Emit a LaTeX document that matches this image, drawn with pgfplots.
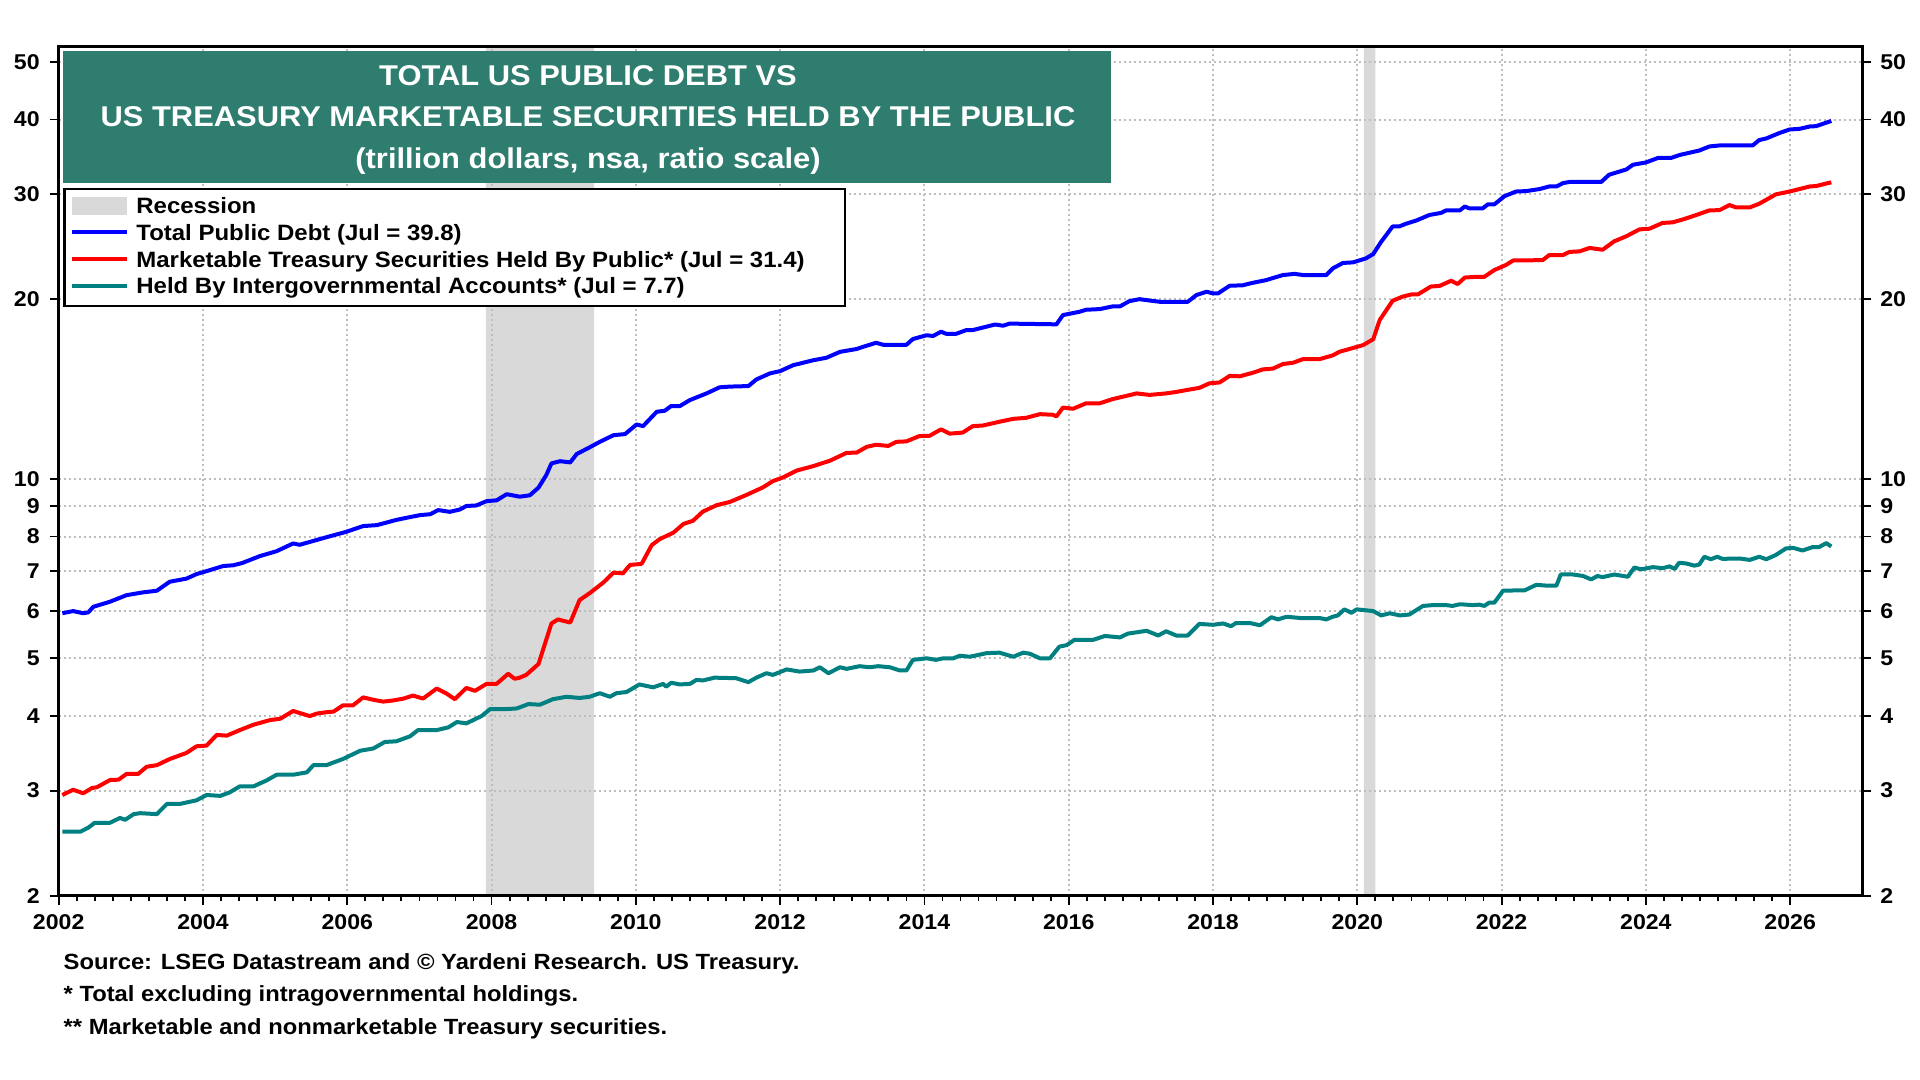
\documentclass[border=0pt]{standalone}
\usepackage{pgfplots}
\pgfplotsset{compat=1.18}
\usepackage{fontspec}
\setmainfont{Liberation Sans}[FakeStretch=1.08]
\definecolor{titlegreen}{RGB}{46,125,111}
\definecolor{recgray}{RGB}{217,217,217}
\definecolor{gridgray}{RGB}{190,190,190}
\definecolor{tealc}{RGB}{0,128,128}
\begin{document}
\begin{tikzpicture}
\begin{axis}[
  at={(29.35pt,92.15pt)}, anchor=south west,
  scale only axis, width=901.8pt, height=424.5pt,
  xmin=2002, xmax=2027, ymin=2, ymax=53, ymode=log,
  set layers,
  axis line style={line width=1.65pt},
  xtick={2002,2004,2006,2008,2010,2012,2014,2016,2018,2020,2022,2024,2026},
  xticklabels={2002,2004,2006,2008,2010,2012,2014,2016,2018,2020,2022,2024,2026},
  minor x tick num=7,
  ytick={2,3,4,5,6,7,8,9,10,20,30,40,50},
  yticklabels={2,3,4,5,6,7,8,9,10,20,30,40,50},
  yminorticks=false,
  ytick pos=left, xtick pos=bottom,
  tick align=outside,
  major tick length=4.5pt, minor tick length=2.5pt,
  tick style={line width=0.9pt, black},
  grid=major,
  major grid style={line width=1pt, color=gridgray, dash pattern=on 1pt off 1.5pt},
  ticklabel style={font=\fontsize{10.7}{12}\selectfont\bfseries},
  xticklabel style={yshift=-1.5pt},
  yticklabel style={xshift=-1.5pt},
]
\addplot[fill=recgray, draw=none, on layer=axis background] coordinates {(2007.92,2) (2009.42,2) (2009.42,53) (2007.92,53) (2007.92,2)};
\addplot[fill=recgray, draw=none, on layer=axis background] coordinates {(2020.09,2) (2020.25,2) (2020.25,53) (2020.09,53) (2020.09,2)};
% Total public debt
\addplot[blue, line width=2pt, line join=round] coordinates {
(2002.05,5.95)(2002.20,6.0)(2002.34,5.95)(2002.41,5.97)(2002.48,6.1)(2002.71,6.22)(2002.94,6.38)(2003.17,6.45)(2003.36,6.49)(2003.54,6.72)(2003.77,6.8)(2003.91,6.92)(2004.10,7.03)(2004.28,7.14)(2004.42,7.16)(2004.54,7.22)(2004.79,7.42)(2005.02,7.56)(2005.25,7.79)(2005.34,7.75)(2005.71,7.98)(2005.99,8.15)(2006.22,8.33)(2006.41,8.36)(2006.68,8.53)(2006.82,8.6)(2007.01,8.69)(2007.15,8.72)(2007.26,8.86)(2007.42,8.8)(2007.56,8.88)(2007.65,9.0)(2007.79,9.02)(2007.93,9.17)(2008.07,9.2)(2008.21,9.42)(2008.39,9.33)(2008.53,9.38)(2008.65,9.66)(2008.76,10.15)(2008.83,10.61)(2008.95,10.7)(2009.09,10.65)(2009.18,11.0)(2009.36,11.29)(2009.50,11.53)(2009.69,11.83)(2009.85,11.88)(2010.01,12.33)(2010.10,12.25)(2010.29,12.95)(2010.40,13.0)(2010.49,13.24)(2010.61,13.24)(2010.75,13.55)(2010.98,13.9)(2011.16,14.23)(2011.30,14.27)(2011.56,14.3)(2011.67,14.67)(2011.86,15.02)(2012.00,15.15)(2012.18,15.5)(2012.46,15.8)(2012.64,15.95)(2012.83,16.32)(2013.06,16.5)(2013.15,16.64)(2013.33,16.9)(2013.43,16.77)(2013.75,16.77)(2013.84,17.15)(2014.03,17.4)(2014.12,17.35)(2014.23,17.64)(2014.30,17.5)(2014.44,17.5)(2014.58,17.75)(2014.67,17.75)(2014.98,18.14)(2015.09,18.05)(2015.18,18.2)(2015.83,18.15)(2015.92,18.81)(2016.15,19.05)(2016.24,19.2)(2016.43,19.25)(2016.61,19.45)(2016.71,19.45)(2016.84,19.85)(2016.98,20.0)(2017.12,19.9)(2017.26,19.8)(2017.65,19.8)(2017.77,20.32)(2017.91,20.58)(2018.00,20.45)(2018.07,20.45)(2018.23,21.06)(2018.41,21.1)(2018.55,21.3)(2018.74,21.53)(2018.83,21.7)(2018.97,21.95)(2019.13,22.05)(2019.25,21.95)(2019.57,21.95)(2019.66,22.52)(2019.80,23.0)(2019.94,23.05)(2020.12,23.41)(2020.22,23.8)(2020.33,24.95)(2020.49,26.48)(2020.58,26.48)(2020.68,26.77)(2020.82,27.1)(2021.00,27.68)(2021.16,27.9)(2021.23,28.17)(2021.42,28.17)(2021.49,28.6)(2021.55,28.4)(2021.74,28.4)(2021.81,28.84)(2021.90,28.84)(2022.04,29.76)(2022.20,30.3)(2022.34,30.35)(2022.53,30.6)(2022.66,30.9)(2022.76,30.9)(2022.85,31.3)(2022.94,31.44)(2023.38,31.44)(2023.49,32.33)(2023.73,33.0)(2023.82,33.6)(2024.00,33.9)(2024.17,34.5)(2024.35,34.5)(2024.47,34.9)(2024.74,35.5)(2024.88,36.06)(2025.02,36.2)(2025.48,36.2)(2025.57,36.96)(2025.67,37.2)(2025.85,37.98)(2025.99,38.5)(2026.13,38.6)(2026.27,38.95)(2026.36,39.0)(2026.57,39.8)
};
% Marketable held by public
\addplot[red, line width=2pt, line join=round] coordinates {
(2002.05,2.95)(2002.20,3.01)(2002.34,2.97)(2002.46,3.03)(2002.53,3.04)(2002.71,3.125)(2002.83,3.13)(2002.94,3.2)(2003.10,3.2)(2003.22,3.29)(2003.36,3.31)(2003.54,3.39)(2003.77,3.47)(2003.91,3.56)(2004.05,3.57)(2004.19,3.72)(2004.33,3.71)(2004.51,3.79)(2004.70,3.87)(2004.93,3.94)(2005.07,3.96)(2005.25,4.08)(2005.48,4.0)(2005.58,4.04)(2005.71,4.06)(2005.81,4.07)(2005.94,4.17)(2006.08,4.17)(2006.22,4.30)(2006.36,4.26)(2006.50,4.23)(2006.64,4.25)(2006.78,4.28)(2006.91,4.33)(2007.05,4.28)(2007.24,4.45)(2007.38,4.36)(2007.49,4.27)(2007.65,4.46)(2007.77,4.41)(2007.93,4.53)(2008.07,4.53)(2008.23,4.71)(2008.32,4.62)(2008.39,4.64)(2008.48,4.69)(2008.65,4.89)(2008.83,5.72)(2008.92,5.81)(2009.09,5.74)(2009.22,6.26)(2009.36,6.43)(2009.55,6.70)(2009.69,6.96)(2009.82,6.94)(2009.92,7.17)(2010.08,7.2)(2010.22,7.74)(2010.33,7.92)(2010.52,8.12)(2010.66,8.40)(2010.79,8.5)(2010.93,8.81)(2011.12,9.03)(2011.30,9.14)(2011.53,9.39)(2011.76,9.67)(2011.90,9.91)(2012.04,10.05)(2012.23,10.32)(2012.46,10.50)(2012.69,10.72)(2012.92,11.05)(2013.06,11.06)(2013.20,11.31)(2013.33,11.4)(2013.50,11.35)(2013.61,11.53)(2013.75,11.55)(2013.93,11.79)(2014.07,11.8)(2014.23,12.1)(2014.35,11.9)(2014.53,11.95)(2014.67,12.25)(2014.81,12.28)(2015.04,12.46)(2015.23,12.6)(2015.41,12.65)(2015.60,12.83)(2015.78,12.8)(2015.83,12.72)(2015.92,13.16)(2016.06,13.1)(2016.24,13.38)(2016.43,13.38)(2016.61,13.6)(2016.80,13.77)(2016.94,13.9)(2017.12,13.82)(2017.35,13.9)(2017.49,13.98)(2017.63,14.08)(2017.81,14.2)(2017.95,14.45)(2018.09,14.5)(2018.23,14.87)(2018.37,14.85)(2018.55,15.05)(2018.69,15.25)(2018.83,15.3)(2018.97,15.57)(2019.11,15.65)(2019.25,15.87)(2019.48,15.87)(2019.66,16.1)(2019.75,16.32)(2019.89,16.5)(2020.08,16.75)(2020.22,17.13)(2020.31,18.45)(2020.49,19.88)(2020.63,20.2)(2020.75,20.37)(2020.84,20.37)(2021.02,21.0)(2021.14,21.05)(2021.30,21.47)(2021.39,21.2)(2021.49,21.74)(2021.65,21.8)(2021.76,21.8)(2021.90,22.38)(2022.06,22.82)(2022.16,23.22)(2022.57,23.25)(2022.66,23.71)(2022.85,23.71)(2022.94,24.0)(2023.08,24.05)(2023.22,24.37)(2023.40,24.2)(2023.56,25.0)(2023.73,25.5)(2023.91,26.18)(2024.05,26.25)(2024.23,26.84)(2024.37,26.9)(2024.51,27.2)(2024.70,27.68)(2024.88,28.17)(2025.02,28.2)(2025.16,28.76)(2025.25,28.5)(2025.44,28.5)(2025.57,28.9)(2025.80,29.97)(2025.99,30.3)(2026.27,30.9)(2026.36,30.95)(2026.57,31.4)
};
% Intergovernmental
\addplot[tealc, line width=2pt, line join=round] coordinates {
(2002.05,2.56)(2002.30,2.56)(2002.41,2.6)(2002.50,2.65)(2002.71,2.65)(2002.85,2.70)(2002.92,2.68)(2003.04,2.74)(2003.13,2.75)(2003.36,2.74)(2003.50,2.85)(2003.68,2.85)(2003.91,2.89)(2004.05,2.95)(2004.24,2.94)(2004.37,2.98)(2004.51,3.05)(2004.70,3.05)(2004.88,3.12)(2005.02,3.19)(2005.25,3.19)(2005.44,3.22)(2005.53,3.31)(2005.71,3.31)(2005.94,3.39)(2006.18,3.50)(2006.36,3.53)(2006.52,3.62)(2006.68,3.63)(2006.87,3.7)(2006.98,3.79)(2007.24,3.79)(2007.40,3.83)(2007.52,3.91)(2007.65,3.89)(2007.86,4.0)(2007.98,4.11)(2008.21,4.11)(2008.35,4.12)(2008.51,4.19)(2008.67,4.18)(2008.85,4.27)(2009.04,4.31)(2009.22,4.29)(2009.36,4.31)(2009.50,4.37)(2009.64,4.31)(2009.73,4.37)(2009.87,4.39)(2010.05,4.52)(2010.24,4.47)(2010.38,4.53)(2010.42,4.48)(2010.49,4.55)(2010.61,4.52)(2010.75,4.53)(2010.84,4.60)(2010.93,4.59)(2011.09,4.64)(2011.39,4.63)(2011.56,4.56)(2011.67,4.64)(2011.81,4.72)(2011.90,4.69)(2012.09,4.79)(2012.27,4.75)(2012.46,4.77)(2012.55,4.83)(2012.67,4.72)(2012.83,4.83)(2012.92,4.8)(2013.10,4.85)(2013.24,4.83)(2013.36,4.85)(2013.52,4.83)(2013.66,4.77)(2013.75,4.77)(2013.84,4.97)(2014.03,5.0)(2014.16,4.97)(2014.26,5.0)(2014.40,5.0)(2014.49,5.05)(2014.63,5.03)(2014.86,5.1)(2015.04,5.11)(2015.23,5.03)(2015.37,5.11)(2015.46,5.09)(2015.60,5.0)(2015.74,5.0)(2015.87,5.23)(2015.97,5.26)(2016.08,5.37)(2016.34,5.37)(2016.50,5.45)(2016.71,5.42)(2016.82,5.5)(2017.08,5.56)(2017.24,5.46)(2017.35,5.55)(2017.49,5.46)(2017.65,5.46)(2017.81,5.71)(2018.00,5.69)(2018.14,5.72)(2018.25,5.66)(2018.32,5.73)(2018.51,5.73)(2018.65,5.68)(2018.81,5.86)(2018.90,5.81)(2019.02,5.87)(2019.22,5.84)(2019.48,5.84)(2019.57,5.81)(2019.66,5.87)(2019.73,5.9)(2019.82,6.04)(2019.92,5.96)(2019.99,6.04)(2020.22,6.0)(2020.33,5.9)(2020.45,5.95)(2020.59,5.9)(2020.72,5.92)(2020.91,6.12)(2021.05,6.14)(2021.23,6.14)(2021.32,6.12)(2021.42,6.16)(2021.60,6.14)(2021.69,6.15)(2021.76,6.12)(2021.83,6.2)(2021.90,6.2)(2022.02,6.49)(2022.25,6.5)(2022.32,6.5)(2022.48,6.64)(2022.62,6.62)(2022.76,6.62)(2022.82,6.91)(2022.99,6.91)(2023.13,6.87)(2023.24,6.78)(2023.33,6.87)(2023.40,6.84)(2023.56,6.91)(2023.75,6.85)(2023.84,7.1)(2023.93,7.05)(2024.10,7.11)(2024.23,7.08)(2024.33,7.13)(2024.40,7.06)(2024.46,7.23)(2024.56,7.21)(2024.67,7.15)(2024.74,7.18)(2024.81,7.40)(2024.90,7.33)(2024.99,7.40)(2025.06,7.34)(2025.30,7.35)(2025.44,7.31)(2025.57,7.40)(2025.67,7.33)(2025.80,7.45)(2025.94,7.64)(2026.04,7.66)(2026.17,7.58)(2026.31,7.68)(2026.40,7.68)(2026.50,7.80)(2026.57,7.7)
};
\end{axis}
% right-hand axis labels
\begin{axis}[
  at={(29.35pt,92.15pt)}, anchor=south west,
  scale only axis, width=901.8pt, height=424.5pt,
  xmin=2002, xmax=2027, ymin=2, ymax=53, ymode=log,
  hide x axis, axis y line*=right,
  axis line style={line width=1.65pt},
  ytick={2,3,4,5,6,7,8,9,10,20,30,40,50},
  yticklabels={2,3,4,5,6,7,8,9,10,20,30,40,50},
  yminorticks=false,
  tick align=outside, major tick length=4.5pt,
  tick style={line width=0.9pt, black},
  ticklabel style={font=\fontsize{10.7}{12}\selectfont\bfseries},
  yticklabel style={xshift=1pt},
]
\addplot[draw=none] coordinates {(2010,10) (2020,20)};
\end{axis}
% title box
\fill[titlegreen] (31.35pt,448.5pt) rectangle (555.3pt,514.65pt);
\begin{scope}[every node/.style={text=white, font=\fontsize{14.3}{16}\selectfont\bfseries, anchor=base, inner sep=0pt}]
\node at (294pt,497.4pt) {TOTAL US PUBLIC DEBT VS};
\node at (294pt,476.6pt) {US TREASURY MARKETABLE SECURITIES HELD BY THE PUBLIC};
\node at (294pt,455.75pt) {(trillion dollars, nsa, ratio scale)};
\end{scope}
% legend
\fill[white] (32.15pt,387pt) rectangle (422.5pt,445.5pt);
\draw[line width=1.2pt] (32.15pt,387pt) rectangle (422.5pt,445.5pt);
\fill[recgray] (36.15pt,432.65pt) rectangle (63.35pt,441.65pt);
\draw[blue, line width=2pt] (36.15pt,423.85pt) -- (63.35pt,423.85pt);
\draw[red, line width=2pt] (36.15pt,410.35pt) -- (63.35pt,410.35pt);
\draw[tealc, line width=2pt] (36.15pt,397pt) -- (63.35pt,397pt);
\begin{scope}[every node/.style={font=\fontsize{11.1}{12}\selectfont\bfseries, anchor=base west, inner sep=0pt}]
\node at (68pt,433.2pt) {Recession};
\node at (68pt,419.9pt) {Total Public Debt (Jul = 39.8)};
\node at (68pt,406.4pt) {Marketable Treasury Securities Held By Public* (Jul = 31.4)};
\node at (68pt,393.05pt) {Held By Intergovernmental Accounts* (Jul = 7.7)};
\end{scope}
% footnotes
\begin{scope}[every node/.style={font=\fontsize{11}{13}\selectfont\bfseries, anchor=base west, inner sep=0pt}]
\node at (31.65pt,55.35pt) {Source: LSEG Datastream and © Yardeni Research. US Treasury.};
\node at (31.65pt,39.2pt) {* Total excluding intragovernmental holdings.};
\node at (31.65pt,22.5pt) {** Marketable and nonmarketable Treasury securities.};
\end{scope}
\pgfresetboundingbox
\path[use as bounding box] (0,0) rectangle (960pt,540pt);
\end{tikzpicture}
\end{document}
